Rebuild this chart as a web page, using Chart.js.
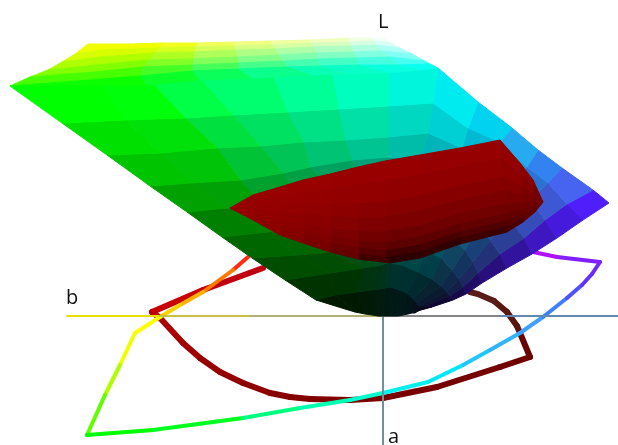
<!DOCTYPE html>
<html><head><meta charset="utf-8">
<style>html,body{margin:0;padding:0;background:#fff}canvas{display:block}</style>
<script src="https://cdn.jsdelivr.net/npm/chart.js@4"></script></head>
<body><canvas id="c" width="618" height="445"></canvas>
<script>
// Lower (saturated to black) face of the colour solid: rows from top edge to black point
const meshRow0=[[10,86],[100,84],[153,84],[200,79],[273,76],[332,73],[388,72],[438,68],[478,102],[512,128],[538,150],[562,168],[593,190],[609,203]];
const meshRow1=[[62,123],[125,120],[185,118],[233,115],[287,112],[338,109],[388,106],[433,103],[468,128],[500,142],[527,167],[548,183],[567,204],[583,220]];
const meshRow2=[[107,155],[160,153],[217,148],[260,146],[303,142],[345,140],[388,137],[428,133],[462,148],[490,165],[512,185],[530,200],[545,220],[557,238]];
const meshRow3=[[150,186],[190,183],[240,180],[283,173],[310,167],[352,160],[388,157],[420,160],[450,172],[475,190],[495,205],[512,222],[524,238],[532,254]];
const meshRow4=[[187,212],[227,208],[262,205],[300,200],[340,195],[375,190],[400,188],[415,190],[440,200],[462,214],[478,228],[490,240],[500,254],[507,268]];
const meshRow5=[[222,237],[267,232],[305,228],[340,224],[365,222],[385,220],[398,218],[410,218],[432,228],[450,238],[465,250],[473,262],[478,273],[482,283]];
const meshRow6=[[252,258],[297,255],[330,252],[355,250],[375,247],[390,245],[398,243],[405,242],[425,250],[441,258],[452,270],[459,279],[463,287],[466,294]];
const meshRow7=[[285,280],[330,273],[363,268],[376,266],[384,264],[388,263],[390,263],[402,265],[418,272],[432,279],[441,286],[447,292],[450,296],[453,300]];
const meshRow8=[[316,300],[335,295],[357,292],[372,290],[380,289],[385,288],[390,287],[397,289],[407,293],[413,299],[417,303],[419,306],[425,306],[432,307]];
const meshRow9=[[345,309],[355,312],[365,314],[372,315],[378,316],[383,316],[392,316],[398,316],[403,315],[408,314],[412,313],[415,313],[418,311],[421,310]];
const meshRows=[meshRow0,meshRow1,meshRow2,meshRow3,meshRow4,meshRow5,meshRow6,meshRow7,meshRow8,meshRow9];
const meshHues=[[0,255,0],[0,255,10],[0,255,70],[0,255,110],[0,255,150],[0,255,190],[0,245,220],[0,235,240],[0,210,240],[40,170,240],[50,130,240],[70,100,240],[80,30,250]];
const meshShades=[1,.88,.77,.63,.5,.4,.3,.2,.1];

// Upper (bright) face: rows from the saturated edge to yellow/white edge
const capRow0=[[10,86],[90,85],[145,85],[198,80],[250,78],[310,75],[345,74],[388,73],[420,70],[438,68]];
const capRow1=[[10,86],[90,80],[140,76],[192,71],[238,69],[287,67],[320,66],[358,65],[398,65],[430,64]];
const capRow2=[[30,77],[95,72],[143,67],[192,65],[238,63],[283,61],[318,59],[356,58],[390,57],[425,61]];
const capRow3=[[48,70],[97,65],[148,60],[193,59],[237,57],[278,55],[316,53],[353,52],[382,51],[412,54]];
const capRow4=[[62,62],[100,57],[154,53],[194,52],[235,50],[275,49],[313,47],[351,46],[376,45],[400,48]];
const capRow5=[[75,54],[103,50],[159,48],[195,47],[234,46],[272,45],[311,43],[349,42],[374,41],[391,43]];
const capRow6=[[88,44],[130,44],[163,43],[197,43],[233,42],[270,41],[310,40],[348,38],[372,38],[383,38]];
const capRows=[capRow0,capRow1,capRow2,capRow3,capRow4,capRow5,capRow6];
const capRed=[10,70,130,175,215,240];
const capBlueLow=[0,0,40,90,140,180,200,225,240];
const capBlueHigh=[0,0,30,90,130,160,190,225,250];

// Red gamut body
const blobRow0=[[230,208],[253,195],[280,187],[303,180],[330,174],[358,167],[385,161],[420,155],[460,148],[500,140],[520,163],[533,180],[543,202]];
const blobRow1=[[230,208],[253,200],[280,197],[303,193],[330,190],[358,185],[385,181],[420,175],[460,167],[501,158],[521,175],[533,186],[543,202]];
const blobRow2=[[230,208],[253,205],[280,206],[303,205],[330,205],[358,204],[385,202],[420,196],[460,186],[503,177],[521,187],[533,193],[543,202]];
const blobRow3=[[230,208],[253,209],[280,213],[303,215],[330,217],[358,218],[385,217],[420,211],[460,200],[504,191],[522,195],[534,198],[543,202]];
const blobRow4=[[230,208],[253,212],[280,221],[303,224],[330,229],[358,231],[385,232],[420,226],[460,214],[505,204],[522,204],[534,202],[543,202]];
const blobRow5=[[230,208],[253,215],[280,225],[303,230],[330,236],[358,241],[385,243],[420,237],[460,224],[506,214],[522,210],[534,206],[543,202]];
const blobRow6=[[230,208],[253,217],[280,229],[303,235],[330,243],[358,248],[385,251],[420,245],[460,232],[506,221],[523,215],[535,208],[543,202]];
const blobRow7=[[230,208],[253,219],[280,233],[303,240],[330,248],[358,254],[385,258],[420,252],[460,238],[507,227],[523,219],[535,210],[543,202]];
const blobRow8=[[230,208],[253,220],[280,235],[303,243],[330,252],[358,259],[390,263],[420,258],[460,244],[507,232],[523,222],[535,212],[543,202]];
const blobRows=[blobRow0,blobRow1,blobRow2,blobRow3,blobRow4,blobRow5,blobRow6,blobRow7,blobRow8];
const blobShadeLevels=[150,180,200,220,235,248,258,265];
const blobShadeReds=[158,150,142,130,115,95,60,38];

// Gamut boundary curves on the a-b plane
const rimPoints=[[248,257],[233,270],[203,292],[180,305],[160,317],[135,333],[120,365],[105,395],[87,435],[153,430],[243,418],[300,408],[350,400],[383,393],[428,382],[463,365],[490,350],[520,333],[543,317],[567,298],[582,285],[592,274],[600,262],[557,257],[533,252]];
const rimColors=['#ff2a10','#ff7a00','#ffb000','#ffd000','#ffff00','#f0ff00','#b0ff00','#60ff00','#00ff00','#00ff20','#00ff80','#00ffb0','#00ffd0','#00f0f0','#00e8ff','#20c8ff','#30b4ff','#40a0ff','#4080ff','#5050ff','#6030ff','#7028ff','#8020ff','#b010ff','#d000ff'];
const srgbPoints=[[263,268],[203,290],[152,312],[160,318],[183,343],[200,358],[220,372],[243,383],[270,393],[290,397],[310,399],[350,400],[383,398],[437,387],[500,367],[530,357],[520,333],[517,326],[507,312],[494,301],[478,294],[470,292]];
const srgbColors=['#c00010','#c80008','#c00000','#a80000','#a00000','#980000','#940000','#900000','#880000','#840000','#800000','#7c0000','#780000','#740000','#700000','#680404','#601010','#5a1410','#5a1812','#5a1c18','#5a1c18','#5a1c18'];

// Axes
const bAxis=[[67,316],[160,316],[250,316],[380,316],[500,316],[618,316]];
const bAxisColors=['#e8e000','#c8c040','#b0b070','#868688','#6088b0','#2f74d0'];
const aAxis=[[383,316],[383,445]];
const axisLabels=[{t:'L',x:378,y:28},{t:'b',x:66,y:304},{t:'a',x:388,y:443}];

const xy=p=>({x:p[0],y:p[1]});
const patch=(a,b,c,d,color)=>({data:[a,b,c,d,a].map(xy),showLine:true,fill:'shape',tension:0,pointRadius:0,
  borderWidth:1,borderColor:color,backgroundColor:color});
const rgb=c=>`rgb(${c.map(Math.round).join(',')})`;
function blobShade(a,b,c,d){
  const mx=(a[0]+b[0]+c[0]+d[0])/4,my=(a[1]+b[1]+c[1]+d[1])/4,lev=my+0.22*(mx-380);
  let i=0;while(i<blobShadeLevels.length-1&&lev>blobShadeLevels[i+1])i++;
  if(i>=blobShadeLevels.length-1)return blobShadeReds[blobShadeReds.length-1];
  const t=Math.max(0,(lev-blobShadeLevels[i])/(blobShadeLevels[i+1]-blobShadeLevels[i]));
  return blobShadeReds[i]+(blobShadeReds[i+1]-blobShadeReds[i])*t;
}
const layers=[];   // first dataset is painted last
for(let r=blobRows.length-2;r>=0;r--){
  const A=blobRows[r],B=blobRows[r+1];
  for(let j=0;j<A.length-1;j++) layers.push(patch(A[j],A[j+1],B[j+1],B[j],rgb([blobShade(A[j],A[j+1],B[j+1],B[j]),0,0])));
}
for(let r=0;r<capRows.length-1;r++){
  const A=capRows[r],B=capRows[r+1],t=r/(capRows.length-2);
  for(let j=0;j<A.length-1;j++){
    const blue=capBlueLow[j]+(capBlueHigh[j]-capBlueLow[j])*t;
    layers.push(patch(A[j],A[j+1],B[j+1],B[j],rgb([capRed[r],255,blue])));
  }
}
for(let r=0;r<meshRows.length-1;r++){
  const A=meshRows[r],B=meshRows[r+1];
  for(let j=0;j<A.length-1;j++){
    layers.push(patch(A[j],A[j+1],B[j+1],B[j],rgb(meshHues[j].map(v=>v*meshShades[r]))));
  }
}
const curve=(pts,cols,w)=>({data:pts.map(xy),showLine:true,fill:false,tension:0,pointRadius:0,borderWidth:w,
  borderColor:cols[0],borderCapStyle:'round',borderJoinStyle:'miter',
  segment:{borderColor:ctx=>cols[ctx.p0DataIndex]}});
layers.push(curve(aAxis,['#6f9296'],2));
layers.push(curve(bAxis,bAxisColors,2));
layers.push(curve(rimPoints,rimColors,4));
layers.push(curve(srgbPoints,srgbColors,6));

const labelPlugin={id:'axisLabels',afterDatasetsDraw(ch){
  const {ctx,scales:{x,y}}=ch;ctx.save();ctx.fillStyle='#111';ctx.font='20px "Open Sans"';
  ctx.textBaseline='alphabetic';ctx.textAlign='left';
  axisLabels.forEach(l=>ctx.fillText(l.t,x.getPixelForValue(l.x),y.getPixelForValue(l.y)));ctx.restore();
}};
new Chart(document.getElementById('c'),{type:'scatter',data:{datasets:layers},plugins:[labelPlugin],
 options:{responsive:false,animation:false,layout:{padding:0},
  plugins:{legend:{display:false},tooltip:{enabled:false},filler:{drawTime:'beforeDatasetDraw'}},
  scales:{x:{type:'linear',min:0,max:618,display:false},y:{type:'linear',min:0,max:445,reverse:true,display:false}}}});
</script></body></html>
